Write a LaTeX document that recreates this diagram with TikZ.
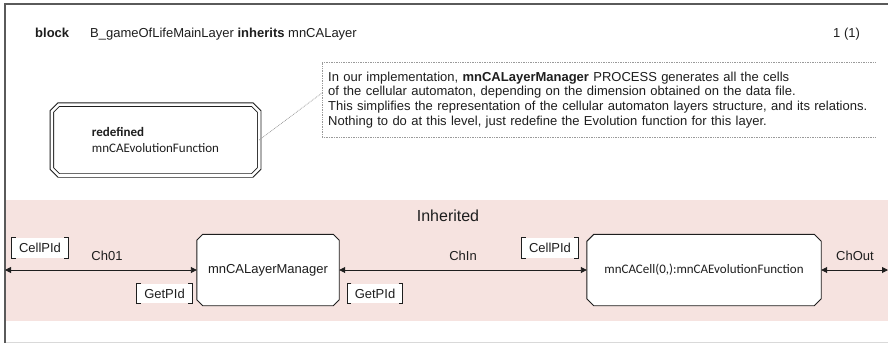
\documentclass[tikz,border=0pt]{standalone}
\usepackage{fontspec}
\setmainfont{Liberation Sans}
\newfontfamily\boxfont{Carlito}
\usetikzlibrary{arrows.meta,backgrounds}

\definecolor{band}{HTML}{F6E3E0}
\definecolor{framegray}{HTML}{5A5A5A}
\definecolor{ink}{HTML}{1E1E1E}
\definecolor{notegray}{HTML}{9A9A9A}

\tikzset{
  txt/.style={font=\fontsize{13}{14.7}\selectfont, text=ink, inner sep=0pt},
  procbox/.style={rectangle, minimum height=71pt, inner sep=0pt, text=ink},
  procline/.style={draw=ink, line width=0.9pt, fill=white},
  procdouble/.style={draw=ink, line width=0.9pt, double=white, double distance=2.6pt},
  siglist/.style={txt, fill=white, minimum width=56pt, minimum height=20pt},
  brk/.style={draw=ink, line width=0.9pt},
  chan/.style={draw=ink, line width=0.9pt,
    {Triangle[length=6pt,width=6pt]}-{Triangle[length=6pt,width=6pt]}},
  dotline/.style={draw=notegray, line width=0.7pt, dash pattern=on 0.8pt off 0.9pt},
}

% octagonal outline round a named node, corners cut by #2
\newcommand{\chamf}[3]{%
  \path[#3] ([xshift=#2]#1.north west) -- ([xshift=-#2]#1.north east)
    -- ([yshift=-#2]#1.north east) -- ([yshift=#2]#1.south east)
    -- ([xshift=-#2]#1.south east) -- ([xshift=#2]#1.south west)
    -- ([yshift=#2]#1.south west) -- ([yshift=-#2]#1.north west) -- cycle;}

\newcommand{\brackets}[1]{%
  \draw[brk] ([xshift=4pt]#1.north west) -- (#1.north west) -- (#1.south west) -- ([xshift=4pt]#1.south west);
  \draw[brk] ([xshift=-4pt]#1.north east) -- (#1.north east) -- (#1.south east) -- ([xshift=-4pt]#1.south east);}

\begin{document}
\begin{tikzpicture}[x=1pt, y=-1pt]
  \useasboundingbox (0,0) rectangle (888,343);
  \begin{scope}[on background layer]
    \fill[white] (0,0) rectangle (888,343);
    % inherited part of the block
    \fill[band] (5,200) rectangle (888,321);
  \end{scope}
  \draw[black!15, line width=0.8pt] (5,342) -- (888,342);

  % block frame
  \draw[framegray, line width=1.5pt] (888,4) -- (5,4) -- (5,343);

  % heading
  \node[txt, anchor=base west] (kw) at (35,37.5) {\textbf{block}};
  \node[txt, anchor=base west] (bname) at (90,37.5) {B\_gameOfLifeMainLayer \textbf{inherits} mnCALayer};
  \node[txt, anchor=base west] (page) at (833,37.5) {1 (1)};

  % comment
  \node[txt, anchor=north west, inner xsep=6pt, text width=541pt, minimum height=75pt, align=left] (note) at (322,62)
    {In our implementation, \textbf{mnCALayerManager} PROCESS generates all the cells\\
     of the cellular automaton, depending on the dimension obtained on the data file.\\
     This simplifies the representation of the cellular automaton layers structure, and its relations.\\
     Nothing to do at this level, just redefine the Evolution function for this layer.};
  \draw[dotline] (note.north east) -- (note.north west) -- (note.south west) -- (note.south east);

  % redefined procedure
  \node[procbox, minimum width=207pt, minimum height=70.5pt,
        font=\boxfont\fontsize{13}{16}\selectfont, align=left] (redef) at (155.5,140)
    {\bfseries redefined\\mnCAEvolutionFunction};
  \coordinate (notein) at (322,93);
  \draw[dotline] (redef.east) -- (notein);

  % inherited processes
  \node[txt, font=\fontsize{16}{18}\selectfont] (inh) at (448,216) {Inherited};
  \node[procbox, minimum width=142pt, font=\fontsize{13}{15}\selectfont] (mgr) at (268,270) {mnCALayerManager};
  \node[procbox, minimum width=234pt, font=\boxfont\fontsize{13}{15}\selectfont] (cell) at (704,270) {mnCACell(0,):mnCAEvolutionFunction};

  \begin{scope}[on background layer]
    \chamf{redef}{7pt}{procdouble}
    \chamf{mgr}{6pt}{procline}
    \chamf{cell}{7pt}{procline}
  \end{scope}

  \coordinate (lend) at (5,270);
  \coordinate (rend) at (888,270);

  % channels
  \draw[chan] (lend) -- (mgr.west);
  \draw[chan] (mgr.east) -- (cell.west);
  \draw[chan] (cell.east) -- (rend);

  \node[txt] (ch01) at (107,256) {Ch01};
  \node[txt] (chin) at (463,256) {ChIn};
  \node[txt] (chout) at (855,256) {ChOut};

  % signal lists
  \node[siglist] (sl1) at (40,248) {CellPId};
  \node[siglist, minimum width=55pt, minimum height=19pt] (sl2) at (164.5,293.5) {GetPId};
  \node[siglist, minimum width=55pt, minimum height=19pt] (sl3) at (375,293.5) {GetPId};
  \node[siglist] (sl4) at (550,248) {CellPId};
  \brackets{sl1}
  \brackets{sl2}
  \brackets{sl3}
  \brackets{sl4}
\end{tikzpicture}
\end{document}
